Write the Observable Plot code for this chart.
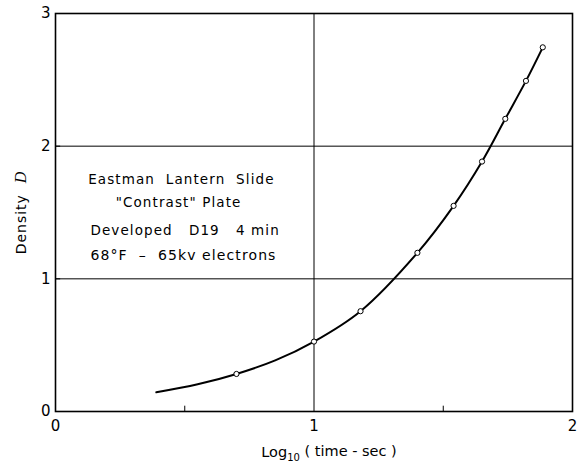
<!DOCTYPE html>
<html>
<head>
<meta charset="utf-8">
<script src="https://cdn.jsdelivr.net/npm/d3@7"></script>
<script src="https://cdn.jsdelivr.net/npm/@observablehq/plot@0.6"></script>
<style>
  body { margin: 0; background: #fff; }
  svg text { font-family: "DejaVu Sans", sans-serif; }
</style>
</head>
<body>
<div id="chart"></div>
<script>
// Measured points (open circles)
const logTime = [0.70, 1.00, 1.18, 1.40, 1.54, 1.65, 1.74, 1.82, 1.885];
const density = [0.283, 0.527, 0.756, 1.196, 1.55, 1.884, 2.206, 2.492, 2.745];
// Drawn smooth curve
const curveX = [0.39, 0.55, 0.70, 0.85, 1.00, 1.18, 1.40, 1.54, 1.65, 1.74, 1.82, 1.885];
const curveY = [0.145, 0.205, 0.283, 0.385, 0.527, 0.756, 1.196, 1.55, 1.884, 2.206, 2.492, 2.745];
// Axes
const xTickLabels = [0, 1, 2];
const yTickLabels = [0, 1, 2, 3];
const xGrid = [1];
const yGrid = [1, 2];
const xMinorTicks = [0.5, 1.5];
const yMinorTicks = [1, 2];
const noteLines = ["Eastman  Lantern  Slide", "\"Contrast\" Plate", "Developed   D19   4 min", "68°F  –  65kv electrons"];

const points = logTime.map((x, i) => ({x, y: density[i]}));
const curve = curveX.map((x, i) => ({x, y: curveY[i]}));

const noteStyle = {fontSize: 13.5, fill: "#000"};

const chart = Plot.plot({
  width: 579,
  height: 463,
  marginLeft: 55,
  marginRight: 7,
  marginTop: 13,
  marginBottom: 52,
  x: {domain: [0, 2], axis: null},
  y: {domain: [0, 3], axis: null},
  marks: [
    Plot.ruleX(xGrid, {stroke: "#000", strokeWidth: 1}),
    Plot.ruleY(yGrid, {stroke: "#000", strokeWidth: 1}),
    Plot.ruleX(xMinorTicks, {y1: 0, y2: 0.04, stroke: "#000", strokeWidth: 1}),
    Plot.ruleY(yMinorTicks, {x1: 0, x2: 0.02, stroke: "#000", strokeWidth: 1}),
    Plot.frame({stroke: "#000", strokeWidth: 1.6}),
    Plot.line(curve, {x: "x", y: "y", curve: "catmull-rom", stroke: "#000", strokeWidth: 2}),
    Plot.dot(points, {x: "x", y: "y", r: 2.6, fill: "#fff", stroke: "#000", strokeWidth: 1}),
    Plot.text(xTickLabels, {x: d => d, frameAnchor: "bottom", lineAnchor: "middle", dy: 15, text: d => String(d), fontSize: 15, fill: "#000"}),
    Plot.text(yTickLabels, {y: d => d, frameAnchor: "left", dx: -5, textAnchor: "end", text: d => String(d), fontSize: 15, fill: "#000"}),
    Plot.text([noteLines[0]], {x: 0.487, y: 1.748, text: d => d, ...noteStyle}),
    Plot.text([noteLines[1]], {x: 0.476, y: 1.575, text: d => d, ...noteStyle}),
    Plot.text([noteLines[2]], {x: 0.135, y: 1.364, text: d => d, textAnchor: "start", ...noteStyle}),
    Plot.text([noteLines[3]], {x: 0.135, y: 1.176, text: d => d, textAnchor: "start", ...noteStyle, fontSize: 14}),
    Plot.text(["Density D"], {frameAnchor: "left", textAnchor: "middle", dx: -34, rotate: -90, text: d => d, fontSize: 14, fill: "#000"}),
    Plot.text(["Log10 ( time - sec )"], {frameAnchor: "bottom", lineAnchor: "middle", dx: 15, dy: 41, text: d => d, fontSize: 14.5, fill: "#000"})
  ]
});

document.getElementById("chart").appendChild(chart);

// Rich text: italic D, subscript 10; lettering-style spacing for the note
d3.select(chart).selectAll("text").each(function() {
  const t = d3.select(this);
  const s = this.textContent;
  if (s === "Density D") {
    t.attr("letter-spacing", "1px").text(null);
    t.append("tspan").text("Density  ");
    t.append("tspan").attr("font-style", "italic").attr("font-family", "Liberation Serif, serif").attr("font-size", 16).text("D");
  } else if (s === "Log10 ( time - sec )") {
    t.text(null);
    t.append("tspan").text("Log");
    t.append("tspan").attr("font-size", 10).attr("dy", "0.35em").text("10");
    t.append("tspan").attr("dy", "-0.35em").text(" ( time - sec )");
  } else if (noteLines.includes(s)) {
    t.attr("letter-spacing", "1.1px");
  }
});
</script>
</body>
</html>
